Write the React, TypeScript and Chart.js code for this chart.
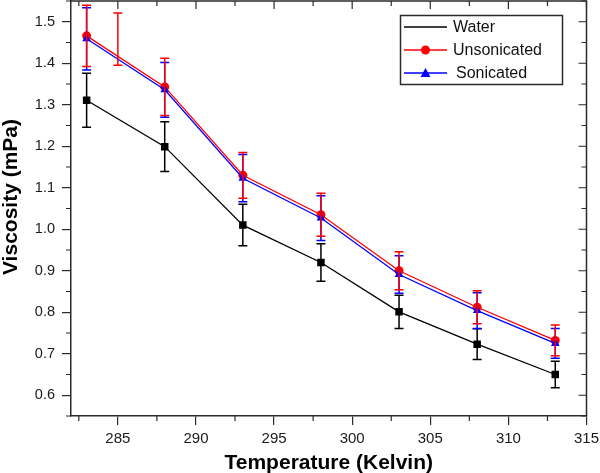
import React, { useEffect, useRef } from "react";
import { Chart, registerables } from "chart.js";

Chart.register(...registerables);

const temperatures = [283, 288, 293, 298, 303, 308, 313];
const water = [1.311, 1.199, 1.01, 0.92, 0.801, 0.723, 0.65];
const waterErr = [0.065, 0.06, 0.05, 0.045, 0.04, 0.037, 0.032];
const unsonicated = [1.466, 1.343, 1.13, 1.035, 0.9, 0.812, 0.732];
const unsonicatedErr = [0.074, 0.069, 0.055, 0.052, 0.046, 0.04, 0.037];
const sonicated = [1.459, 1.336, 1.123, 1.027, 0.891, 0.804, 0.725];
const sonicatedErr = [0.075, 0.066, 0.057, 0.054, 0.045, 0.043, 0.036];
const strayX = [285];
const strayY = [1.458];
const strayErr = [0.063];

const xTicks = [285, 290, 295, 300, 305, 310, 315];
const xMinorTicks = [282.5, 287.5, 292.5, 297.5, 302.5, 307.5, 312.5];
const yTicks = [0.6, 0.7, 0.8, 0.9, 1.0, 1.1, 1.2, 1.3, 1.4, 1.5];
const yMinorTicks = [0.55, 0.65, 0.75, 0.85, 0.95, 1.05, 1.15, 1.25, 1.35, 1.45, 1.55];

const xTitle = "Temperature (Kelvin)";
const yTitle = "Viscosity (mPa)";
const legendLabels = ["Water", "Unsonicated", "Sonicated"];

const FONT = "'Liberation Sans', Arial, sans-serif";
const AXIS = "#2a2a2a";

const pts = (xs: number[], ys: number[]) => xs.map((x, i) => ({ x, y: ys[i] }));

const errorBarsPlugin = {
  id: "errorBars",
  afterDatasetsDraw(chart: any) {
    const ctx = chart.ctx;
    const xs = chart.scales.x;
    const ys = chart.scales.y;
    const drawOrder = [0, 2, 1, 3];
    ctx.save();
    for (const i of drawOrder) {
      const ds: any = chart.data.datasets[i];
      if (!ds || !ds.errors) continue;
      ctx.strokeStyle = ds.errorColor;
      ctx.lineWidth = 1.5;
      ds.data.forEach((p: any, j: number) => {
        const e = ds.errors[j];
        const x = xs.getPixelForValue(p.x);
        const y1 = ys.getPixelForValue(p.y + e);
        const y2 = ys.getPixelForValue(p.y - e);
        ctx.beginPath();
        ctx.moveTo(x, y1);
        ctx.lineTo(x, y2);
        ctx.moveTo(x - 4.5, y1);
        ctx.lineTo(x + 4.5, y1);
        ctx.moveTo(x - 4.5, y2);
        ctx.lineTo(x + 4.5, y2);
        ctx.stroke();
      });
    }
    ctx.restore();
  },
};

const framePlugin = {
  id: "frame",
  afterDraw(chart: any) {
    const ctx = chart.ctx;
    const a = chart.chartArea;
    const xs = chart.scales.x;
    const ys = chart.scales.y;
    ctx.save();
    ctx.strokeStyle = AXIS;
    ctx.lineWidth = 1.5;
    ctx.beginPath();
    ctx.moveTo(a.left, a.top);
    ctx.lineTo(a.right, a.top);
    ctx.lineTo(a.right, a.bottom);
    ctx.stroke();
    ctx.lineWidth = 1.2;
    ctx.beginPath();
    xTicks.forEach((v) => {
      const x = xs.getPixelForValue(v);
      ctx.moveTo(x, a.top);
      ctx.lineTo(x, a.top + 8);
    });
    xMinorTicks.forEach((v) => {
      const x = xs.getPixelForValue(v);
      ctx.moveTo(x, a.top);
      ctx.lineTo(x, a.top + 5);
      ctx.moveTo(x, a.bottom);
      ctx.lineTo(x, a.bottom + 5);
    });
    yTicks.forEach((v) => {
      const y = ys.getPixelForValue(v);
      ctx.moveTo(a.right, y);
      ctx.lineTo(a.right - 8, y);
    });
    yMinorTicks.forEach((v) => {
      const y = ys.getPixelForValue(v);
      ctx.moveTo(a.right, y);
      ctx.lineTo(a.right - 5, y);
      ctx.moveTo(a.left, y);
      ctx.lineTo(a.left - 5, y);
    });
    ctx.stroke();

    ctx.fillStyle = "#000";
    ctx.font = `bold 21px ${FONT}`;
    ctx.textAlign = "center";
    ctx.textBaseline = "middle";
    ctx.fillText(xTitle, (a.left + a.right) / 2, 463);
    ctx.save();
    ctx.translate(11, 197);
    ctx.rotate(-Math.PI / 2);
    ctx.fillText(yTitle, 0, 0);
    ctx.restore();

    const lx = 400.5, ly = 15.5, lw = 162, lh = 69;
    ctx.fillStyle = "#fff";
    ctx.fillRect(lx, ly, lw, lh);
    ctx.strokeStyle = AXIS;
    ctx.lineWidth = 1.5;
    ctx.strokeRect(lx, ly, lw, lh);
    const rows = [27, 50, 73];
    const colors = ["#000000", "#ff0000", "#0000ff"];
    rows.forEach((ry, i) => {
      ctx.strokeStyle = colors[i];
      ctx.lineWidth = 1.3;
      ctx.beginPath();
      ctx.moveTo(404, ry);
      ctx.lineTo(447, ry);
      ctx.stroke();
      ctx.fillStyle = colors[i];
      if (i === 1) {
        ctx.beginPath();
        ctx.arc(425.5, ry, 4.5, 0, Math.PI * 2);
        ctx.fill();
      } else if (i === 2) {
        ctx.beginPath();
        ctx.moveTo(425.5, ry - 5);
        ctx.lineTo(430.5, ry + 4);
        ctx.lineTo(420.5, ry + 4);
        ctx.closePath();
        ctx.fill();
      }
      ctx.fillStyle = "#111";
      ctx.font = `16px ${FONT}`;
      ctx.textAlign = "left";
      ctx.textBaseline = "middle";
      ctx.fillText(legendLabels[i], i === 2 ? 456 : 453, ry + 1);
    });
    ctx.restore();
  },
};

export default function App() {
  const ref = useRef<HTMLCanvasElement | null>(null);
  useEffect(() => {
    if (!ref.current) return;
    const chart = new Chart(ref.current, {
      type: "line",
      data: {
        datasets: [
          {
            label: legendLabels[0],
            data: pts(temperatures, water),
            borderColor: "#000000",
            backgroundColor: "#000000",
            borderWidth: 1.3,
            pointStyle: "rect",
            pointRadius: 5.3,
            pointBorderWidth: 0,
            order: 3,
            errors: waterErr,
            errorColor: "#000000",
          } as any,
          {
            label: legendLabels[1],
            data: pts(temperatures, unsonicated),
            borderColor: "#ff0000",
            backgroundColor: "#ff0000",
            borderWidth: 1.3,
            pointStyle: "circle",
            pointRadius: 4.5,
            pointBorderWidth: 0,
            order: 2,
            errors: unsonicatedErr,
            errorColor: "#ff0000",
          } as any,
          {
            label: legendLabels[2],
            data: pts(temperatures, sonicated),
            borderColor: "#0000ff",
            backgroundColor: "#0000ff",
            borderWidth: 1.3,
            pointStyle: "triangle",
            pointRadius: 5,
            pointBorderWidth: 0,
            order: 1,
            errors: sonicatedErr,
            errorColor: "#0000ff",
          } as any,
          {
            label: "stray",
            data: pts(strayX, strayY),
            showLine: false,
            pointRadius: 0,
            borderColor: "#ff0000",
            order: 4,
            errors: strayErr,
            errorColor: "#ff0000",
          } as any,
        ],
      },
      options: {
        responsive: false,
        animation: false,
        layout: { autoPadding: false, padding: { top: 1, right: 13.5, left: 0, bottom: 0 } },
        plugins: { legend: { display: false }, tooltip: { enabled: false } },
        scales: {
          x: {
            type: "linear",
            min: 282,
            max: 315,
            afterBuildTicks: (s: any) => {
              s.ticks = xTicks.map((v) => ({ value: v }));
            },
            afterFit: (s: any) => {
              s.height = 57;
              s.paddingLeft = 0;
              s.paddingRight = 0;
            },
            grid: { display: true, drawOnChartArea: false, drawTicks: true, tickLength: 9, color: AXIS, lineWidth: 1.2 },
            border: { display: true, color: AXIS, width: 1.5 },
            ticks: { color: "#1a1a1a", font: { family: FONT, size: 15 }, padding: 5, maxRotation: 0, autoSkip: false },
          },
          y: {
            type: "linear",
            min: 0.55,
            max: 1.55,
            afterBuildTicks: (s: any) => {
              s.ticks = yTicks.map((v) => ({ value: v }));
            },
            afterFit: (s: any) => {
              s.width = 71;
              s.paddingTop = 0;
              s.paddingBottom = 0;
            },
            grid: { display: true, drawOnChartArea: false, drawTicks: true, tickLength: 9, color: AXIS, lineWidth: 1.2 },
            border: { display: true, color: AXIS, width: 1.5 },
            ticks: {
              color: "#1a1a1a",
              font: { family: FONT, size: 14.5 },
              padding: 7,
              autoSkip: false,
              callback: (v: any) => Number(v).toFixed(1),
            },
          },
        },
      },
      plugins: [errorBarsPlugin, framePlugin],
    });
    return () => chart.destroy();
  }, []);
  return (
    <div style={{ position: "fixed", left: 0, top: 0, width: 600, height: 473, background: "#fff" }}>
      <canvas ref={ref} width={600} height={473} style={{ display: "block" }} />
    </div>
  );
}
